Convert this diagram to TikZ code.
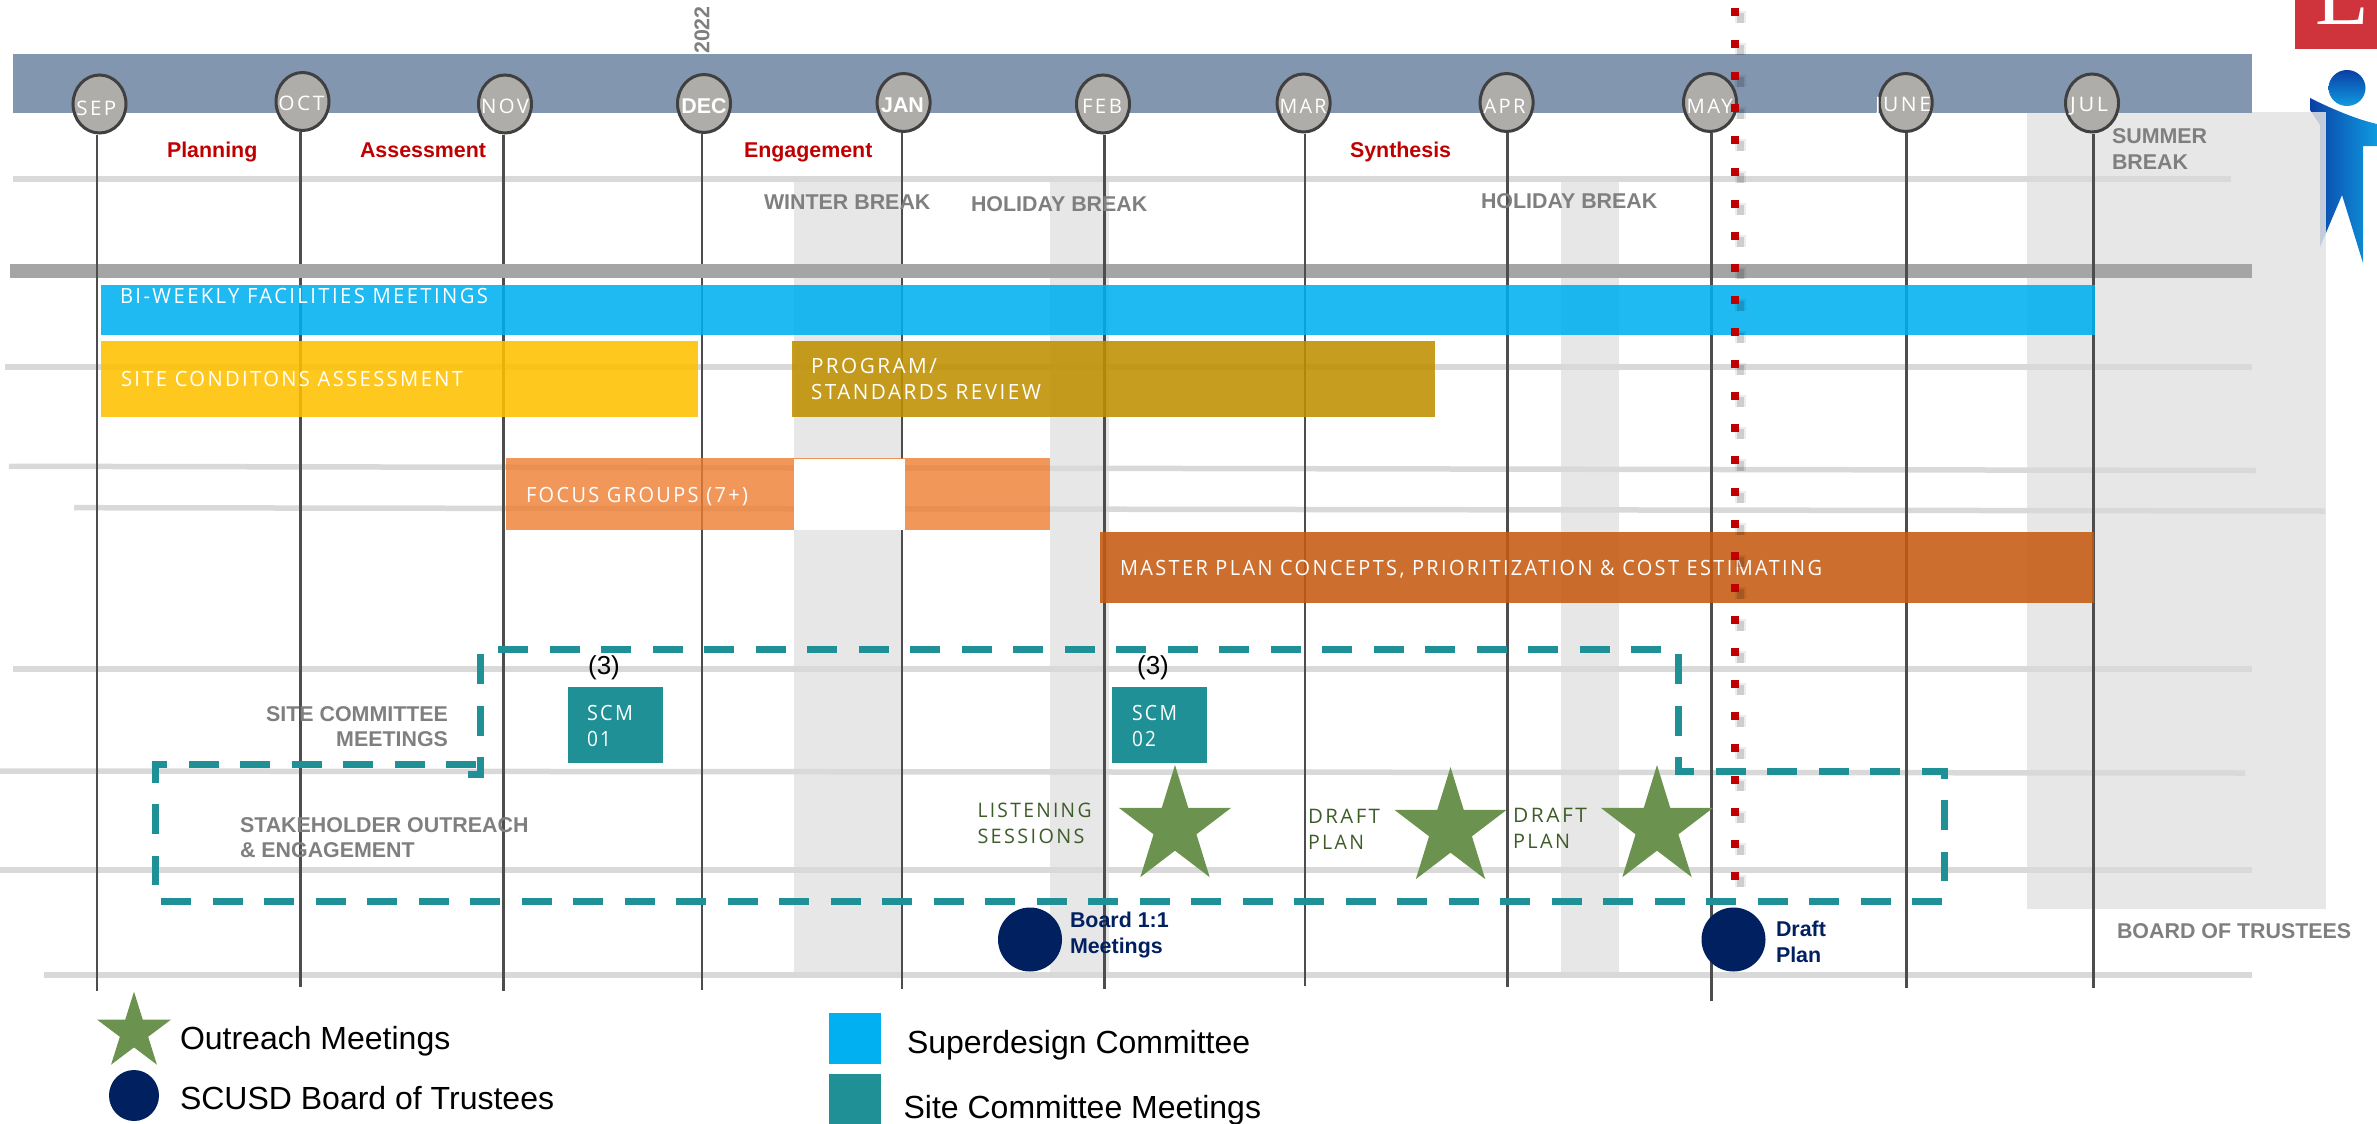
\documentclass[tikz,border=0pt]{standalone}
\usepackage{graphicx}
\usepackage{fontspec}
\usetikzlibrary{shapes.geometric}
\setmainfont{Liberation Sans}
\newfontfamily\spc[LetterSpace=12]{Open Sans}
\newfontfamily\logofont{Liberation Serif}
\newcommand{\wtxt}[2]{\resizebox{#1}{\height}{\spc #2}}
\definecolor{bandblue}{HTML}{8396B0}
\definecolor{hgray}{HTML}{D9D9D9}
\definecolor{thickgray}{HTML}{A5A5A5}
\definecolor{breakgray}{HTML}{E7E7E7}
\definecolor{summergray}{HTML}{E3E3E3}
\definecolor{mline}{HTML}{4D4D4D}
\definecolor{circfill}{HTML}{AEADA9}
\definecolor{circline}{HTML}{404040}
\definecolor{barblue}{HTML}{00B0F0}
\definecolor{baryellow}{HTML}{FFC000}
\definecolor{bargold}{HTML}{BF9000}
\definecolor{barorange}{HTML}{ED7D31}
\definecolor{barrust}{HTML}{C55A11}
\definecolor{teal}{HTML}{209097}
\definecolor{redlab}{HTML}{C00000}
\definecolor{graytxt}{HTML}{7F7F7F}
\definecolor{greentxt}{HTML}{3E5C28}
\definecolor{stargreen}{HTML}{6B934F}
\definecolor{navy}{HTML}{002060}
\definecolor{logored}{HTML}{CF333C}
\definecolor{persondark}{HTML}{0A3FA5}
\definecolor{personlight}{HTML}{0F9BE0}
\tikzset{
  txt/.style={inner sep=0pt,outer sep=0pt},
  hline/.style={hgray,line width=2.75pt},
  vline/.style={mline,line width=1.25pt},
  month/.style={draw=circline,fill=circfill,ellipse,line width=1.5pt,inner sep=0pt,minimum width=26.5pt,minimum height=29pt},
  mlab/.style={txt,text=white,font=\fontsize{10}{12}\selectfont},
  mbold/.style={txt,text=white,font=\bfseries\fontsize{10.7}{12}\selectfont},
  redl/.style={txt,anchor=base west,text=redlab,font=\bfseries\fontsize{10.7}{13}\selectfont},
  grayl/.style={txt,text=graytxt,font=\bfseries\fontsize{10.7}{12.75}\selectfont},
  barl/.style={txt,anchor=west,text=white,align=left,font=\fontsize{10.5}{13}\selectfont},
  greenl/.style={txt,anchor=west,text=greentxt,align=left,font=\fontsize{10}{13}\selectfont},
  navyl/.style={txt,anchor=west,text=navy,align=left,font=\bfseries\fontsize{10.7}{12.75}\selectfont},
  legl/.style={txt,anchor=base west,text=black,font=\fontsize{16}{19}\selectfont},
  dashline/.style={teal,line width=3.5pt,dash pattern=on 15pt off 10.75pt},
  starnode/.style={star,star points=5,star point ratio=2.618,fill=stargreen,inner sep=0pt,outer sep=0pt,transform shape,yscale=1.05},
  dotnode/.style={ellipse,fill=navy,inner sep=0pt,outer sep=0pt,minimum width=32pt,minimum height=32pt},
}
\begin{document}
\begin{tikzpicture}[x=0.5pt,y=-0.5pt]
\useasboundingbox (0,0) rectangle (2377,1124);
% logo
\fill[logored] (2295,0) rectangle (2377,48.7);
\begin{scope}
\clip (2295,0) rectangle (2377,48.7);
\node[txt,anchor=base west,text=white] (logoL) at (2315,25) {\logofont\fontsize{44}{44}\selectfont L};
\end{scope}
% person
\shade[left color=persondark,right color=personlight,shading angle=90]
  (2310,98) .. controls (2330,108) and (2355,119) .. (2377,124) -- (2377,146) -- (2363,146) -- (2363,263) -- (2342,195) -- (2320,247) -- (2320,125) -- (2310,110) -- cycle;
\shade[top color=persondark,bottom color=personlight] (2347,88) ellipse (18.5 and 18);
% breaks
\fill[breakgray] (794,181) rectangle (902,975);
\fill[breakgray] (1050,181) rectangle (1108.7,975);
\fill[breakgray] (1561,181) rectangle (1619,975);
\fill[summergray,opacity=.85] (2027,112) rectangle (2326,909);
% light horizontal rules
\draw[hline] (13,179) -- (2231,179);
\draw[hline] (5,367) -- (2252,367);
\draw[hline] (9,466.3) -- (2256,470.5);
\draw[hline] (74,507.7) -- (2325,511);
\draw[hline] (13,669) -- (2252,669);
\draw[hline] (0,771) -- (2245,773);
\draw[hline] (0,870) -- (2252,870);
\draw[hline] (44,975) -- (2252,975);
% header
\fill[bandblue] (13,54) rectangle (2252,113);
\node[txt,rotate=90,text=graytxt,font=\bfseries\fontsize{10.7}{12}\selectfont] (yr) at (702,30) {2022};
\node[month] (sep) at (99.5,104) {};
\node[month] (oct) at (302.5,101.5) {};
\node[month] (nov) at (505,104) {};
\node[month] (dec) at (704,103.5) {};
\node[month] (jan) at (903.6,102.5) {};
\node[month] (feb) at (1103,104) {};
\node[month] (mar) at (1303.6,103) {};
\node[month] (apr) at (1506.6,102.5) {};
\node[month] (may) at (1710,102.5) {};
\node[month] (jun) at (1905.7,102.5) {};
\node[month] (jul) at (2092,103) {};
\node[mlab] (sepl) at (96.3,108) {\wtxt{20pt}{SEP}};
\node[mlab] (octl) at (301.3,103) {\wtxt{23pt}{OCT}};
\node[mlab] (novl) at (505,106) {\wtxt{24pt}{NOV}};
\node[mbold] (decl) at (704,106.6) {DEC};
\node[mbold] (janl) at (902.5,105) {JAN};
\node[mlab] (febl) at (1102,106) {\wtxt{20pt}{FEB}};
\node[mlab] (marl) at (1303,106) {\wtxt{23.5pt}{MAR}};
\node[mlab] (aprl) at (1504.6,106) {\wtxt{21pt}{APR}};
\node[mlab] (mayl) at (1709.7,106) {\wtxt{23pt}{MAY}};
\node[mlab] (junl) at (1903,106) {\wtxt{28pt}{JUNE}};
\node[mlab] (jull) at (2089.2,106) {\wtxt{19pt}{JUL}};
% month lines
\coordinate (sepb) at (97,990.7);
\coordinate (octb) at (300.5,987);
\coordinate (novb) at (503.6,990.7);
\coordinate (decb) at (702,990);
\coordinate (janb) at (902,989);
\coordinate (febb) at (1104.6,989);
\coordinate (marb) at (1305,985.7);
\coordinate (aprb) at (1507.6,987);
\coordinate (mayb) at (1711.5,1000.7);
\coordinate (junb) at (1906.7,987.7);
\coordinate (julb) at (2093.6,987.7);
\draw[vline] (oct.south -| octb) -- (octb);
\draw[vline] (nov.south -| novb) -- (novb);
\draw[vline] (dec.south -| decb) -- (decb);
\draw[vline] (jan.south -| janb) -- (janb);
\fill[thickgray] (10,264) rectangle (2252,278);
\draw[vline] (sep.south -| sepb) -- (sepb);
\draw[vline] (feb.south -| febb) -- (febb);
\draw[vline] (mar.south -| marb) -- (marb);
\draw[vline] (apr.south -| aprb) -- (aprb);
\draw[vline] (may.south -| mayb) -- (mayb);
\draw[vline] (jun.south -| junb) -- (junb);
\draw[vline] (jul.south -| julb) -- (julb);
% phase labels
\node[redl] (plan) at (167,157) {Planning};
\node[redl] (assess) at (360,157) {Assessment};
\node[redl] (engage) at (744,157) {Engagement};
\node[redl] (synth) at (1350,157) {Synthesis};
% bars
\fill[barblue,opacity=.88] (101,285) rectangle (2094.5,335);
\fill[baryellow,opacity=.88] (101,341) rectangle (698,417);
\fill[bargold,opacity=.88] (792,341) rectangle (1435,417);
\fill[barorange,opacity=.8] (506,458) rectangle (1050,530);
\fill[white] (793.6,459) rectangle (905,530);
\fill[barrust,opacity=.88] (1100,532) rectangle (2093.5,603);
\node[barl] (bi) at (120,296) {\wtxt{184pt}{BI-WEEKLY FACILITIES MEETINGS}};
\node[barl] (site) at (121,379) {\wtxt{171pt}{SITE CONDITONS ASSESSMENT}};
\node[barl] (prog) at (811,379) {\wtxt{63pt}{PROGRAM/}\\\wtxt{115pt}{STANDARDS REVIEW}};
\node[barl] (focus) at (526,497) {\wtxt{111pt}{FOCUS GROUPS (7+)}};
\node[barl] (master) at (1120,569) {\wtxt{351pt}{MASTER PLAN CONCEPTS, PRIORITIZATION \& COST ESTIMATING}};
% break labels
\node[grayl,anchor=west] (winter) at (764,202) {WINTER BREAK};
\node[grayl,anchor=west] (hol1) at (971,204) {HOLIDAY BREAK};
\node[grayl,anchor=west] (hol2) at (1481,201) {HOLIDAY BREAK};
\node[grayl,anchor=west,align=left,font=\bfseries\fontsize{10.7}{13}\selectfont] (summer) at (2112,149) {SUMMER\\BREAK};
\node[grayl,anchor=west] (bot) at (2117,931) {BOARD OF TRUSTEES};
\node[grayl,anchor=east,align=right] (scm) at (448,726.5) {SITE COMMITTEE\\MEETINGS};
\node[grayl,anchor=west,align=left] (stake) at (240,837.5) {STAKEHOLDER OUTREACH\\\& ENGAGEMENT};
% dashed outline
\draw[dashline] (498,649) -- (1661,649);
\draw[dashline] (480.6,654) -- (480.6,774) -- (468,774);
\draw[dashline] (476,764) -- (155.6,764) -- (155.6,885);
\draw[dashline] (161,901) -- (1942,901);
\draw[dashline] (1678,654) -- (1678,771) -- (1944,771) -- (1944,881);
% red marker
\draw[black,opacity=.07,line width=5.5pt,dash pattern=on 6pt off 10pt,shift={(5,5)}] (1735,6) -- (1735,882);
\draw[black,opacity=.13,line width=3.5pt,dash pattern=on 5pt off 11pt,shift={(5,6)}] (1735,7) -- (1735,882);
\draw[redlab,line width=4pt,dash pattern=on 4pt off 12pt] (1735,8) -- (1735,880);
% SCM boxes
\fill[teal] (568,687) rectangle (663,763);
\fill[teal] (1112,687) rectangle (1207,763);
\node[barl] (scm1) at (587,726) {\wtxt{23pt}{SCM}\\\wtxt{12pt}{01}};
\node[barl] (scm2) at (1132,726) {\wtxt{22.5pt}{SCM}\\\wtxt{12pt}{02}};
\node[txt,text=black,font=\fontsize{13}{15}\selectfont] (n1) at (604,668) {(3)};
\node[txt,text=black,font=\fontsize{13}{15}\selectfont] (n2) at (1153,668) {(3)};
% stars and labels
\node[starnode,minimum size=59pt] (s1) at (1175,827) {};
\node[starnode,minimum size=59pt] (s2) at (1450.5,829) {};
\node[starnode,minimum size=59pt] (s3) at (1657,827) {};
\node[greenl] (listen) at (977.5,823) {\wtxt{57pt}{LISTENING}\\\wtxt{53.5pt}{SESSIONS}};
\node[greenl] (d1) at (1308,829) {\wtxt{36pt}{DRAFT}\\\wtxt{28pt}{PLAN}};
\node[greenl] (d2) at (1513,828) {\wtxt{37pt}{DRAFT}\\\wtxt{28.5pt}{PLAN}};
% board dots
\node[dotnode] (b1) at (1030,939.5) {};
\node[dotnode] (b2) at (1733.5,939.5) {};
\node[navyl] (b1l) at (1070,935) {Board 1:1\\Meetings};
\node[navyl,font=\bfseries\fontsize{10.7}{13}\selectfont] (b2l) at (1776,942) {Draft\\Plan};
% legend
\node[starnode,minimum size=39pt,yscale=.985] (ls) at (134,1032) {};
\node[dotnode,minimum width=25pt,minimum height=25.5pt] (ld) at (134,1095.5) {};
\node[legl] (lsl) at (180,1049) {Outreach Meetings};
\node[legl] (ldl) at (180,1109) {SCUSD Board of Trustees};
\fill[barblue] (829,1013) rectangle (881,1064);
\fill[teal] (829,1074) rectangle (881,1124);
\node[legl] (lbl) at (907,1053) {Superdesign Committee};
\node[legl] (ltl) at (903.6,1118) {Site Committee Meetings};
\end{tikzpicture}
\end{document}
